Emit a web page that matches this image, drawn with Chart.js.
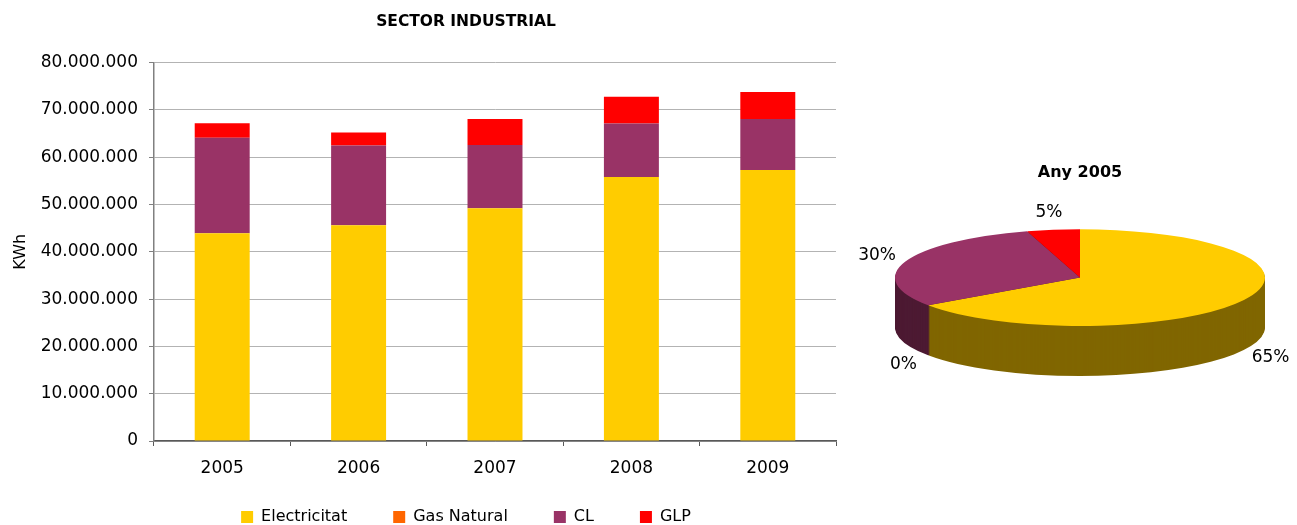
<!DOCTYPE html>
<html><head><meta charset="utf-8">
<script src="https://cdn.jsdelivr.net/npm/chart.js@4.4.1/dist/chart.umd.min.js"></script>
<style>
html,body{margin:0;padding:0;background:#fff;}
#wrap{position:relative;width:1297px;height:525px;overflow:hidden;background:#fff;}
#bar{position:absolute;left:0;top:0;}
#pie{position:absolute;left:850px;top:0;}
</style></head><body>
<div id="wrap"><canvas id="bar" width="932" height="525"></canvas><canvas id="pie" width="447" height="525"></canvas></div>
<script>
const categories = ['2005', '2006', '2007', '2008', '2009'];
const electricitat = [43900000, 45600000, 49200000, 55800000, 57300000];
const gasNatural = [0, 0, 0, 0, 0];
const cl = [20200000, 16900000, 13400000, 11300000, 10800000];
const glp = [3100000, 2700000, 5500000, 5700000, 5700000];
const seriesNames = ['Electricitat', 'Gas Natural', 'CL', 'GLP'];
const yTickLabels = ['0', '10.000.000', '20.000.000', '30.000.000', '40.000.000', '50.000.000', '60.000.000', '70.000.000', '80.000.000'];
const pieYearIndex = 0;

const seriesColors = ['#FFCC00', '#FF6600', '#993366', '#FF0000'];
const sideColors = ['#806600', '#803300', '#4D1A33', '#800000'];
const seriesData = [electricitat, gasNatural, cl, glp];
const FONT = 'DejaVu Sans';

// Let the legend box (laid out compactly) grow upward so its items sit below the x labels.
const legendBox = {
  id: 'legendBox',
  afterLayout(chart, args, opts) {
    const lg = chart.legend;
    if (lg) { lg.top = lg.bottom - opts.height; lg.height = opts.height; }
  }
};

new Chart(document.getElementById('bar'), {
  type: 'bar',
  data: {
    labels: categories,
    datasets: seriesNames.map((n, i) => ({
      label: n, data: seriesData[i], backgroundColor: seriesColors[i],
      borderWidth: 0, barPercentage: 0.403, categoryPercentage: 1, yAxisID: 'y'
    }))
  },
  options: {
    responsive: false, animation: false, devicePixelRatio: 1,
    layout: { padding: 0 },
    plugins: {
      title: { display: true, text: 'SECTOR INDUSTRIAL', color: '#000',
        font: { family: FONT, size: 15.5, weight: 'bold' }, padding: { top: 13, bottom: 31 } },
      legend: { position: 'bottom', maxHeight: 46,
        labels: { boxWidth: 12, boxHeight: 12, padding: 46, color: '#000', font: { family: FONT, size: 16 } } },
      legendBox: { height: 62 },
      tooltip: { enabled: false }
    },
    scales: {
      x: {
        stacked: true,
        grid: { display: true, drawOnChartArea: false, drawTicks: true, tickLength: 5, tickColor: '#595959', offset: true },
        border: { display: true, color: '#595959', width: 1.5 },
        ticks: { color: '#000', font: { family: FONT, size: 17 }, padding: 12 },
        afterFit(s) { s.height = 38; }
      },
      y: {
        stacked: true, min: 0, max: 80000000,
        ticks: { stepSize: 10000000, color: '#000', font: { family: FONT, size: 17 }, padding: 11,
          callback: (v, i) => yTickLabels[i] },
        grid: { color: '#b3b3b3', tickColor: '#808080', tickLength: 5 },
        border: { color: '#808080', width: 1.5 },
        title: { display: true, text: 'KWh', color: '#000', font: { family: FONT, size: 16 }, padding: { top: 11, bottom: 0 } },
        afterFit(s) { s.width = 154; }
      },
      y2: {
        type: 'linear', position: 'right', display: true,
        grid: { display: false }, border: { display: false }, ticks: { display: false },
        afterFit(s) { s.width = 96; }
      }
    }
  },
  plugins: [legendBox]
});

const pie3d = {
  id: 'pie3d',
  beforeDatasetsDraw(chart, args, opts) {
    const ctx = chart.ctx, arcs = chart.getDatasetMeta(0).data, ca = chart.chartArea;
    const p0 = arcs[0].getProps(['x', 'y', 'outerRadius'], true);
    const cx = p0.x, cy = p0.y, r = p0.outerRadius;
    const sx = (ca.width / 2) / r;
    for (let d = opts.depth; d >= 1; d--) {
      ctx.save();
      ctx.translate(cx, cy + d); ctx.scale(sx, 1); ctx.translate(-cx, -cy);
      arcs.forEach((arc, i) => {
        const p = arc.getProps(['startAngle', 'endAngle', 'outerRadius'], true);
        if (p.endAngle - p.startAngle <= 0) return;
        ctx.beginPath(); ctx.moveTo(cx, cy);
        ctx.arc(cx, cy, p.outerRadius, p.startAngle, p.endAngle);
        ctx.closePath(); ctx.fillStyle = sideColors[i]; ctx.fill();
      });
      ctx.restore();
    }
    ctx.save();
    ctx.translate(cx, cy); ctx.scale(sx, 1); ctx.translate(-cx, -cy);
  },
  afterDatasetsDraw(chart, args, opts) {
    const ctx = chart.ctx;
    ctx.restore();
    const arcs = chart.getDatasetMeta(0).data, ca = chart.chartArea;
    const data = chart.data.datasets[0].data;
    const total = data.reduce((a, b) => a + b, 0);
    const p0 = arcs[0].getProps(['x', 'y', 'outerRadius'], true);
    const rx = ca.width / 2, ry = p0.outerRadius;
    ctx.save();
    ctx.font = '17px "' + FONT + '"';
    ctx.fillStyle = '#000'; ctx.textAlign = 'center'; ctx.textBaseline = 'middle';
    arcs.forEach((arc, i) => {
      const p = arc.getProps(['startAngle', 'endAngle'], true);
      const mid = (p.startAngle + p.endAngle) / 2;
      const s = Math.sin(mid);
      const x = p0.x + (rx + opts.labelOffsetX) * Math.cos(mid);
      const y = p0.y + (ry + opts.labelOffsetY) * s + (s > 0 ? opts.depth : 0);
      ctx.fillText(Math.round(data[i] / total * 100) + '%', x, y);
    });
    ctx.restore();
  }
};

const pieValues = seriesData.map(a => a[pieYearIndex]);
new Chart(document.getElementById('pie'), {
  type: 'pie',
  data: { labels: seriesNames, datasets: [{ data: pieValues, backgroundColor: seriesColors, borderWidth: 0, offset: 0, hoverOffset: 0 }] },
  options: {
    responsive: false, animation: false, devicePixelRatio: 1,
    layout: { padding: { left: 45, right: 32, top: 0, bottom: 199 } },
    plugins: {
      legend: { display: false }, tooltip: { enabled: false },
      title: { display: true, text: 'Any ' + categories[pieYearIndex], color: '#000',
        font: { family: FONT, size: 16, weight: 'bold' }, padding: { top: 163, bottom: 47 } },
      pie3d: { depth: 50, labelOffsetX: 30, labelOffsetY: 17 }
    }
  },
  plugins: [pie3d]
});
</script>
</body></html>
